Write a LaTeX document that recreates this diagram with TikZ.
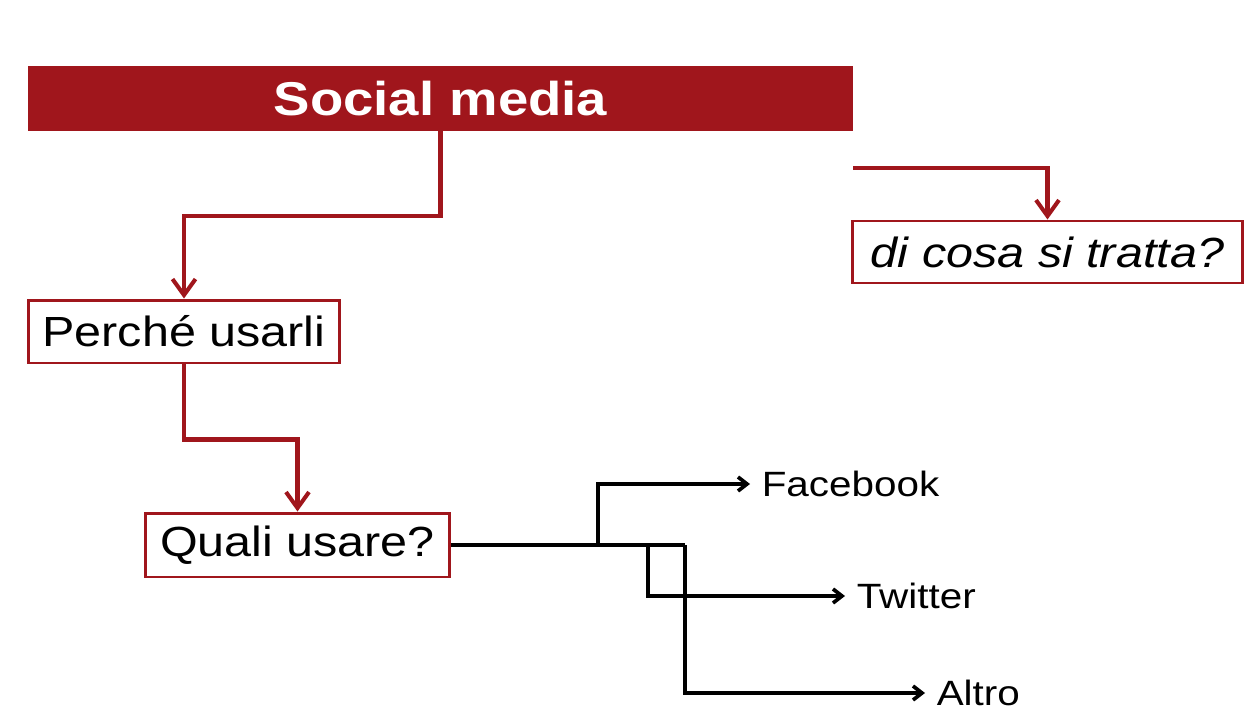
\documentclass[tikz,border=0pt]{standalone}
\usepackage{fontspec}
\setmainfont{Liberation Sans}[FakeStretch=1.15]
\usepackage{xcolor}
\usepackage{tikz}
\usetikzlibrary{positioning,arrows.meta}
\definecolor{smred}{RGB}{160,22,28}

\begin{document}
\begin{tikzpicture}[x=0.02cm, y=-0.02cm,
  headbar/.style={fill=smred, rectangle, inner sep=0pt, text=white, minimum width=16.5cm, minimum height=1.3cm, font=\fontsize{27}{32}\selectfont\bfseries},
  box/.style={draw=smred, line width=1.7pt, rectangle, inner sep=0pt, font=\fontsize{24}{28}\selectfont},
  lbl/.style={anchor=west, inner sep=0pt, inner xsep=6.5pt, font=\fontsize{20}{24}\selectfont},
  redarr/.style={draw=smred, line width=2.3pt, -{Straight Barb[length=3.2mm, width=4.6mm]}},
  blk/.style={line width=2.1pt},
  blkarr/.style={blk, -{Straight Barb[length=1.8mm, width=2.8mm]}}
]
\fill[white] (0,0) rectangle (1245,713);
\useasboundingbox (0,0) rectangle (1245,713);

% Title bar
\node[headbar] (title) at (440.5,98.5) {Social media};

% Question boxes
\node[box, minimum width=7.8cm, minimum height=1.24cm] (what) at (1047.5,252) {\itshape di cosa si tratta?};
\node[box, minimum width=6.24cm, minimum height=1.26cm] (why) at (184,331.5) {Perché usarli};
\node[box, minimum width=6.1cm, minimum height=1.28cm] (which) at (297.5,545) {Quali usare?};

% Networks
\node[lbl] (fb) at (750,484) {Facebook};
\node[lbl] (tw) at (845,596) {Twitter};
\node[lbl] (al) at (925,693) {Altro};

% Free ends and branch points
\coordinate (rstart) at (853,168);
\coordinate (jfb) at (598,545);
\coordinate (jtw) at (648,545);
\coordinate (jal) at (685,545);

% Red arrows
\draw[redarr] (title.south) -- ++(0,85) -| (why.north);
\draw[redarr] (rstart) -| (what.north);
\draw[redarr] (why.south) -- ++(0,75) -| (which.north);

% Black branches
\draw[blk] (which.east) -- (jal);
\draw[blkarr] (jfb) |- (fb.west);
\draw[blkarr] (jtw) |- (tw.west);
\draw[blkarr] (jal) |- (al.west);

\end{tikzpicture}
\end{document}
